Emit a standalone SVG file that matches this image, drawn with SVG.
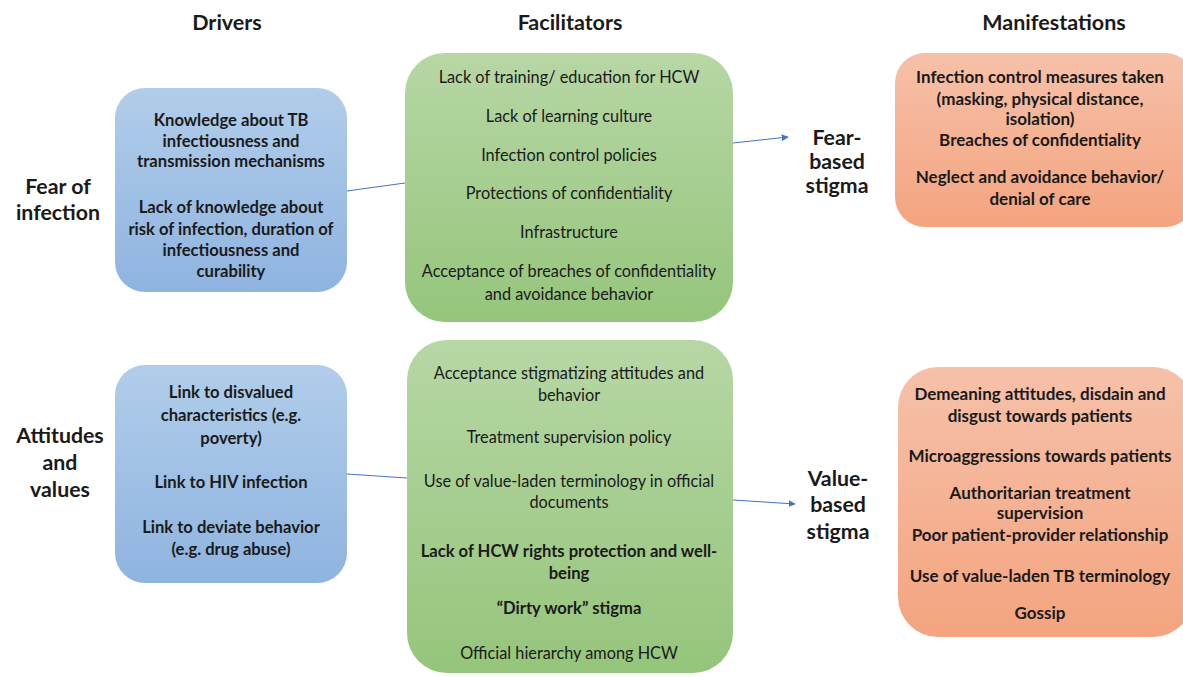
<svg xmlns="http://www.w3.org/2000/svg" width="1183" height="677" viewBox="0 0 1183 677">
<defs>
<linearGradient id="gBlue" x1="0" y1="0" x2="0" y2="1"><stop offset="0" stop-color="#b1cdea"/><stop offset="1" stop-color="#8fb4e0"/></linearGradient>
<linearGradient id="gGreen" x1="0" y1="0" x2="0" y2="1"><stop offset="0" stop-color="#b7d7a5"/><stop offset="1" stop-color="#95c57b"/></linearGradient>
<linearGradient id="gOrange" x1="0" y1="0" x2="0" y2="1"><stop offset="0" stop-color="#f6c1a9"/><stop offset="1" stop-color="#f4a47f"/></linearGradient>
<marker id="arr" viewBox="0 0 10 10" refX="9" refY="5" markerWidth="7" markerHeight="7" orient="auto" markerUnits="userSpaceOnUse"><path d="M0,0 L10,5 L0,10 z" fill="#4472c4"/></marker>
</defs>
<style>
text{font-family:Lato,"Open Sans","Liberation Sans",sans-serif;fill:#1a1a1a;text-anchor:middle}
.h{font-size:21.5px;font-weight:bold}
.big{font-size:21.3px;font-weight:bold}
.b{font-size:16.6px;font-weight:bold}
.o{font-size:17px;font-weight:bold}
.r{font-size:16.3px}
.con{stroke:#4472c4;stroke-width:1;fill:none}
</style>
<rect width="1183" height="677" fill="#ffffff"/>
<g id="headers">
<text class="h" x="227" y="30">Drivers</text>
<text class="h" x="570" y="30">Facilitators</text>
<text class="h" x="1054" y="30">Manifestations</text>
</g>
<g id="connectors">
<line class="con" x1="347" y1="191" x2="405" y2="183"/>
<line class="con" x1="733" y1="143" x2="788" y2="137" marker-end="url(#arr)"/>
<line class="con" x1="347" y1="474" x2="407" y2="478"/>
<line class="con" x1="733" y1="500" x2="795" y2="504" marker-end="url(#arr)"/>
</g>
<g id="fear-of-infection">
<text class="big" x="58" y="194">Fear of</text>
<text class="big" x="58" y="220">infection</text>
</g>
<g id="attitudes-values">
<text class="big" x="60" y="443">Attitudes</text>
<text class="big" x="60" y="470">and</text>
<text class="big" x="60" y="497">values</text>
</g>
<g id="drivers-fear">
<rect x="115" y="88" width="232" height="204" rx="30" fill="url(#gBlue)"/>
<text class="b" x="231" y="126">Knowledge about TB</text>
<text class="b" x="231" y="147">infectiousness and</text>
<text class="b" x="231" y="167">transmission mechanisms</text>
<text class="b" x="231" y="213">Lack of knowledge about</text>
<text class="b" x="231" y="235">risk of infection, duration of</text>
<text class="b" x="231" y="256">infectiousness and</text>
<text class="b" x="231" y="277">curability</text>
</g>
<g id="facilitators-fear">
<rect x="405" y="53" width="328" height="269" rx="40" fill="url(#gGreen)"/>
<text class="r" x="569" y="83">Lack of training/ education for HCW</text>
<text class="r" x="569" y="122">Lack of learning culture</text>
<text class="r" x="569" y="161">Infection control policies</text>
<text class="r" x="569" y="199">Protections of confidentiality</text>
<text class="r" x="569" y="238">Infrastructure</text>
<text class="r" x="569" y="277">Acceptance of breaches of confidentiality</text>
<text class="r" x="569" y="300">and avoidance behavior</text>
</g>
<g id="fear-based-stigma">
<text class="big" x="837" y="145">Fear-</text>
<text class="big" x="837" y="169">based</text>
<text class="big" x="837" y="193">stigma</text>
</g>
<g id="manifest-fear">
<rect x="895" y="53" width="300" height="174" rx="30" fill="url(#gOrange)"/>
<text class="o" x="1040" y="83">Infection control measures taken</text>
<text class="o" x="1040" y="105">(masking, physical distance,</text>
<text class="o" x="1040" y="125">isolation)</text>
<text class="o" x="1040" y="146">Breaches of confidentiality</text>
<text class="o" x="1040" y="183">Neglect and avoidance behavior/</text>
<text class="o" x="1040" y="205">denial of care</text>
</g>
<g id="drivers-values">
<rect x="115" y="365" width="232" height="218" rx="30" fill="url(#gBlue)"/>
<text class="b" x="231" y="398">Link to disvalued</text>
<text class="b" x="231" y="421">characteristics (e.g.</text>
<text class="b" x="231" y="444">poverty)</text>
<text class="b" x="231" y="488">Link to HIV infection</text>
<text class="b" x="231" y="533">Link to deviate behavior</text>
<text class="b" x="231" y="555">(e.g. drug abuse)</text>
</g>
<g id="facilitators-values">
<rect x="407" y="340" width="326" height="333" rx="40" fill="url(#gGreen)"/>
<text class="r" x="569" y="379">Acceptance stigmatizing attitudes and</text>
<text class="r" x="569" y="401">behavior</text>
<text class="r" x="569" y="443">Treatment supervision policy</text>
<text class="r" x="569" y="487">Use of value-laden terminology in official</text>
<text class="r" x="569" y="508">documents</text>
<text class="b" x="569" y="557">Lack of HCW rights protection and well-</text>
<text class="b" x="569" y="579">being</text>
<text class="b" x="569" y="614">“Dirty work” stigma</text>
<text class="r" x="569" y="659">Official hierarchy among HCW</text>
</g>
<g id="value-based-stigma">
<text class="big" x="838" y="486">Value-</text>
<text class="big" x="838" y="512">based</text>
<text class="big" x="838" y="539">stigma</text>
</g>
<g id="manifest-values">
<rect x="898" y="367" width="295" height="270" rx="40" fill="url(#gOrange)"/>
<text class="o" x="1040" y="400">Demeaning attitudes, disdain and</text>
<text class="o" x="1040" y="422">disgust towards patients</text>
<text class="o" x="1040" y="462">Microaggressions towards patients</text>
<text class="o" x="1040" y="499">Authoritarian treatment</text>
<text class="o" x="1040" y="519">supervision</text>
<text class="o" x="1040" y="541">Poor patient-provider relationship</text>
<text class="o" x="1040" y="582">Use of value-laden TB terminology</text>
<text class="o" x="1040" y="619">Gossip</text>
</g>
</svg>
